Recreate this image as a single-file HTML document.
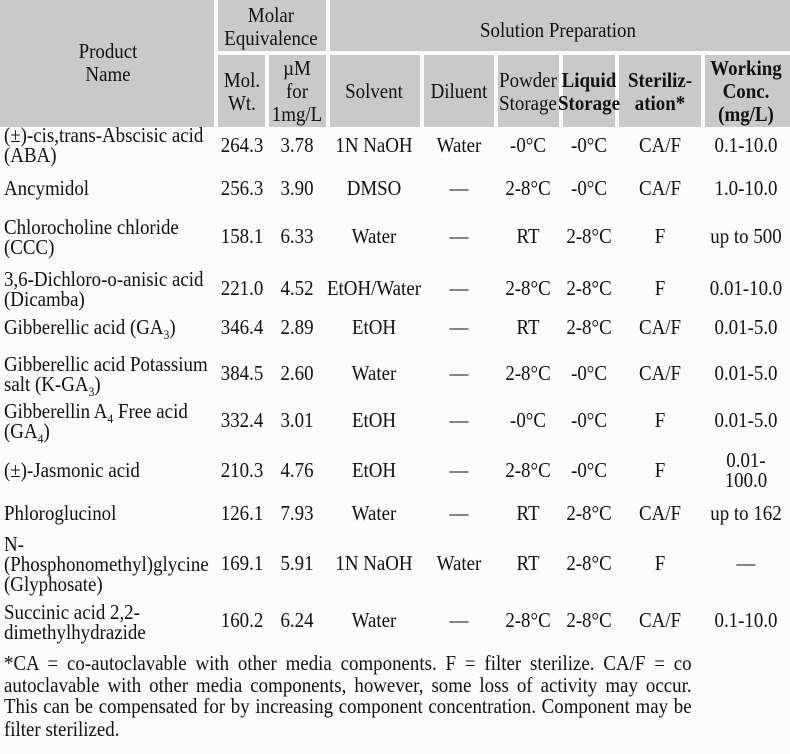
<!DOCTYPE html>
<html><head><meta charset="utf-8"><style>
body{margin:0;background:#fbfbfb;}
#p{position:relative;width:790px;height:754px;overflow:hidden;font-family:"Liberation Serif",serif;font-size:21px;color:#111;}
.h{position:absolute;background:#c9c9c9;}
.c,.l{position:absolute;line-height:20px;white-space:nowrap;}
.c{transform:translateX(-50%) scaleX(.9);text-align:center;}
.l{transform:scaleX(.9);transform-origin:0 0;}
b{font-weight:bold;}
.f{position:absolute;left:4px;width:764px;line-height:21px;transform:scaleX(.9);transform-origin:0 0;text-align:justify;text-align-last:justify;white-space:nowrap;}
sub{font-size:13px;line-height:0;}
</style></head><body><div id="p">
<div class="h" style="left:0;top:0;width:214px;height:127px"></div>
<div class="h" style="left:218px;top:0;width:108px;height:51px"></div>
<div class="h" style="left:330px;top:0;width:460px;height:51px"></div>
<div class="h" style="left:218px;top:55px;width:47px;height:72px"></div>
<div class="h" style="left:269px;top:55px;width:57px;height:72px"></div>
<div class="h" style="left:330px;top:55px;width:90px;height:72px"></div>
<div class="h" style="left:424px;top:55px;width:70px;height:72px"></div>
<div class="h" style="left:498px;top:55px;width:61px;height:72px"></div>
<div class="h" style="left:563px;top:55px;width:52px;height:72px"></div>
<div class="h" style="left:619px;top:55px;width:82px;height:72px"></div>
<div class="h" style="left:705px;top:55px;width:85px;height:72px"></div>

<div class="c" style="left:108px;top:40px;line-height:23px">Product<br>Name</div>
<div class="c" style="left:271px;top:4px;line-height:23px">Molar<br>Equivalence</div>
<div class="c" style="left:558px;top:20px">Solution Preparation</div>
<div class="c" style="left:242px;top:69px;line-height:23px">Mol.<br>Wt.</div>
<div class="c" style="left:297px;top:57px;line-height:23px">µM<br>for<br>1mg/L</div>
<div class="c" style="left:374px;top:81px">Solvent</div>
<div class="c" style="left:459px;top:81px">Diluent</div>
<div class="c" style="left:528px;top:69px;line-height:23px">Powder<br>Storage</div>
<div class="c" style="left:589px;top:69px;line-height:23px"><b>Liquid<br>Storage</b></div>
<div class="c" style="left:660px;top:69px;line-height:23px"><b>Steriliz-<br>ation*</b></div>
<div class="c" style="left:746px;top:57px;line-height:23px"><b>Working<br>Conc.<br>(mg/L)</b></div>

<div class="l" style="left:4px;top:125px">(±)-cis,trans-Abscisic acid<br>(ABA)</div>
<div class="l" style="left:4px;top:178px">Ancymidol</div>
<div class="l" style="left:4px;top:217px">Chlorocholine chloride<br>(CCC)</div>
<div class="l" style="left:4px;top:269px">3,6-Dichloro-o-anisic acid<br>(Dicamba)</div>
<div class="l" style="left:4px;top:317px">Gibberellic acid (GA<sub>3</sub>)</div>
<div class="l" style="left:4px;top:354px">Gibberellic acid Potassium<br>salt (K-GA<sub>3</sub>)</div>
<div class="l" style="left:4px;top:401px">Gibberellin A<sub>4</sub> Free acid<br>(GA<sub>4</sub>)</div>
<div class="l" style="left:4px;top:460px">(±)-Jasmonic acid</div>
<div class="l" style="left:4px;top:503px">Phloroglucinol</div>
<div class="l" style="left:4px;top:534px">N-<br>(Phosphonomethyl)glycine<br>(Glyphosate)</div>
<div class="l" style="left:4px;top:602px">Succinic acid 2,2-<br>dimethylhydrazide</div>

<div id="rows"></div>
<script>
var R=[[145,"264.3","3.78","1N NaOH","Water","-0°C","-0°C","CA/F","0.1-10.0"],
[188,"256.3","3.90","DMSO","—","2-8°C","-0°C","CA/F","1.0-10.0"],
[236,"158.1","6.33","Water","—","RT","2-8°C","F","up to 500"],
[288,"221.0","4.52","EtOH/Water","—","2-8°C","2-8°C","F","0.01-10.0"],
[327,"346.4","2.89","EtOH","—","RT","2-8°C","CA/F","0.01-5.0"],
[373,"384.5","2.60","Water","—","2-8°C","-0°C","CA/F","0.01-5.0"],
[420,"332.4","3.01","EtOH","—","-0°C","-0°C","F","0.01-5.0"],
[470,"210.3","4.76","EtOH","—","2-8°C","-0°C","F","0.01-<br>100.0"],
[513,"126.1","7.93","Water","—","RT","2-8°C","CA/F","up to 162"],
[563,"169.1","5.91","1N NaOH","Water","RT","2-8°C","F","—"],
[620,"160.2","6.24","Water","—","2-8°C","2-8°C","CA/F","0.1-10.0"]];
var X=[242,297,374,459,528,589,660,746],h="";
R.forEach(function(r){for(var i=0;i<8;i++){var t=r[0]-10;if(i==7&&r[8].indexOf("<br>")>0)t=r[0]-20;
h+='<div class="c" style="left:'+X[i]+'px;top:'+t+'px">'+r[i+1]+'</div>';}});
document.getElementById("rows").innerHTML=h;
</script>
<div class="f" style="top:653px">*CA = co-autoclavable with other media components. F = filter sterilize. CA/F = co</div>
<div class="f" style="top:675px">autoclavable with other media components, however, some loss of activity may occur.</div>
<div class="f" style="top:696px">This can be compensated for by increasing component concentration. Component may be</div>
<div class="f" style="top:719px;text-align-last:left">filter sterilized.</div>
</div></body></html>
